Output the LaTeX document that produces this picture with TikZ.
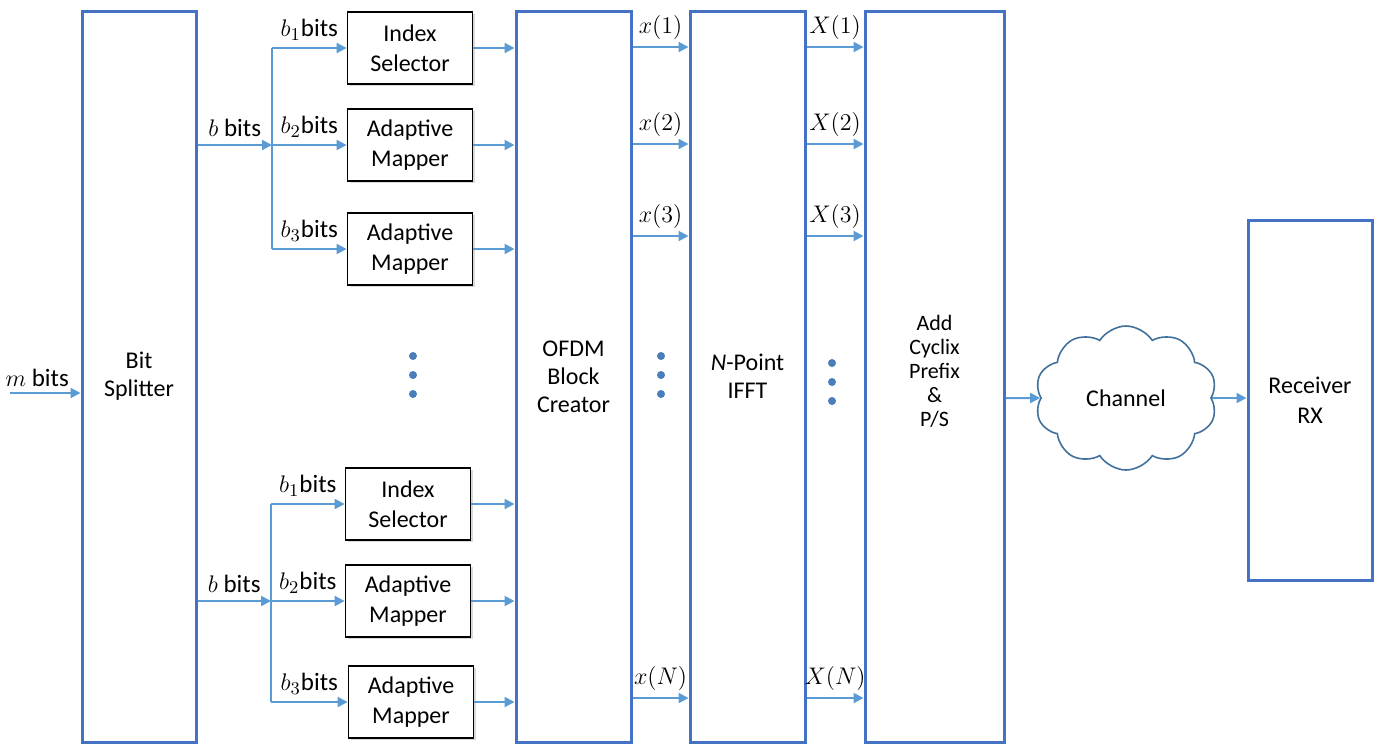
\documentclass[tikz,border=0pt]{standalone}
\usepackage{fontspec}
\setmainfont{Carlito}
\usetikzlibrary{arrows.meta,shadows,shapes.symbols}
\definecolor{boxblue}{HTML}{4472C4}
\definecolor{arrblue}{HTML}{5B9BD5}
\definecolor{cloudblue}{HTML}{41719C}
\definecolor{dotblue}{HTML}{4A7EBB}
\tikzset{
  bigbox/.style={draw=boxblue, line width=1.5pt, fill=white, align=center, font=\fontsize{12}{14}\selectfont,
    drop shadow={shadow xshift=1.2pt, shadow yshift=-1.2pt, opacity=0.3, fill=gray}},
  smallbox/.style={draw=black, line width=0.9pt, fill=white, align=center, minimum width=62.5pt, minimum height=36pt,
    inner sep=0pt, font=\fontsize{12}{15}\selectfont,
    drop shadow={shadow xshift=1.2pt, shadow yshift=-1.2pt, opacity=0.3, fill=gray}},
  arr/.style={draw=arrblue, line width=1pt, -{Triangle[length=5pt, width=5pt]}},
  ln/.style={draw=arrblue, line width=1pt},
  lab/.style={font=\fontsize{12.5}{14}\selectfont, inner sep=1.5pt},
  vdot/.style={circle, fill=dotblue, inner sep=0pt, minimum size=4pt}
}
\begin{document}
\begin{tikzpicture}[x=0.5pt, y=-0.5pt]
\useasboundingbox (0,0) rectangle (1379,746);
% big boxes
\node[bigbox, minimum width=57pt, minimum height=365.5pt] (split) at (139,376.5) {Bit\\Splitter};
\node[bigbox, minimum width=57.5pt, minimum height=365.5pt] (ofdm) at (573.5,376.5) {OFDM\\Block\\Creator};
\node[bigbox, minimum width=57.5pt, minimum height=365.5pt] (ifft) at (747.5,376.5) {\textit{N}-Point\\IFFT};
\node[bigbox, minimum width=69.5pt, minimum height=365.5pt] (acp) at (934.5,376.5) {};
\node[align=center, font=\fontsize{11}{12}\selectfont] (acpt) at (934.5,371) {Add\\Cyclix\\Prefix\\\&\\P/S};
\node[bigbox, minimum width=62pt, minimum height=180pt, font=\fontsize{12}{15}\selectfont] (rx) at (1310,400) {Receiver\\RX};
% small boxes
\node[smallbox] (is1) at (410,48) {Index\\Selector};
\node[smallbox] (am1) at (410,145) {Adaptive\\Mapper};
\node[smallbox] (am2) at (410,249) {Adaptive\\Mapper};
\node[smallbox] (is2) at (408,504) {Index\\Selector};
\node[smallbox] (am3) at (408,601) {Adaptive\\Mapper};
\node[smallbox] (am4) at (411,702) {Adaptive\\Mapper};
% cloud
\node[cloud, cloud puffs=10, cloud puff arc=115, draw=cloudblue, line width=0.8pt, fill=white,
  minimum width=91pt, minimum height=72pt, aspect=1.3, inner sep=0pt, font=\fontsize{12}{14}\selectfont] (cl) at (1126,398) {Channel};
% input
\coordinate (min) at (10,393);
\draw[arr] (min) -- node[above, lab, xshift=-4pt, yshift=1pt]{$m$ bits} (min -| split.west);
% top group
\coordinate (j1) at (272,145);
\draw[arr] (split.east |- j1) -- node[above, lab, yshift=2pt]{$b$ bits} (j1);
\draw[ln] (j1 |- is1) -- (j1 |- am2);
\draw[arr] (j1 |- is1) -- node[above, lab, yshift=2pt]{$b_1$bits} (is1.west);
\draw[arr] (j1 |- am1) -- node[above, lab, yshift=2pt]{$b_2$bits} (am1.west);
\draw[arr] (j1 |- am2) -- node[above, lab, yshift=2pt]{$b_3$bits} (am2.west);
% bottom group
\coordinate (j2) at (271,601);
\draw[arr] (split.east |- j2) -- node[above, lab, yshift=2pt]{$b$ bits} (j2);
\draw[ln] (j2 |- is2) -- (j2 |- am4);
\draw[arr] (j2 |- is2) -- node[above, lab, yshift=2pt]{$b_1$bits} (is2.west);
\draw[arr] (j2 |- am3) -- node[above, lab, yshift=2pt]{$b_2$bits} (am3.west);
\draw[arr] (j2 |- am4) -- node[above, lab, yshift=2pt]{$b_3$bits} (am4.west);
% to OFDM
\draw[arr] (is1.east) -- (is1.east -| ofdm.west);
\draw[arr] (am1.east) -- (am1.east -| ofdm.west);
\draw[arr] (am2.east) -- (am2.east -| ofdm.west);
\draw[arr] (is2.east) -- (is2.east -| ofdm.west);
\draw[arr] (am3.east) -- (am3.east -| ofdm.west);
\draw[arr] (am4.east) -- (am4.east -| ofdm.west);
% x and X arrows
\coordinate (r1) at (0,47);
\coordinate (r2) at (0,144);
\coordinate (r3) at (0,236);
\coordinate (rN) at (0,698);
\draw[arr] (ofdm.east |- r1) -- node[above, lab, yshift=2pt]{$x(1)$} (ifft.west |- r1);
\draw[arr] (ofdm.east |- r2) -- node[above, lab, yshift=2pt]{$x(2)$} (ifft.west |- r2);
\draw[arr] (ofdm.east |- r3) -- node[above, lab, yshift=2pt]{$x(3)$} (ifft.west |- r3);
\draw[arr] (ofdm.east |- rN) -- node[above, lab, yshift=2pt]{$x(N)$} (ifft.west |- rN);
\draw[arr] (ifft.east |- r1) -- node[above, lab, yshift=2pt]{$X(1)$} (acp.west |- r1);
\draw[arr] (ifft.east |- r2) -- node[above, lab, yshift=2pt]{$X(2)$} (acp.west |- r2);
\draw[arr] (ifft.east |- r3) -- node[above, lab, yshift=2pt]{$X(3)$} (acp.west |- r3);
\draw[arr] (ifft.east |- rN) -- node[above, lab, yshift=2pt]{$X(N)$} (acp.west |- rN);
% channel
\draw[arr] (acp.east |- cl) -- (cl.west);
\draw[arr] (cl.east) -- (cl.east -| rx.west);
% dots
\node[vdot] (d1) at (413,356) {};
\node[vdot] (d2) at (413,375) {};
\node[vdot] (d3) at (413,394) {};
\node[vdot] (e1) at (661,356) {};
\node[vdot] (e2) at (661,375) {};
\node[vdot] (e3) at (661,394) {};
\node[vdot] (f1) at (832,363) {};
\node[vdot] (f2) at (832,382) {};
\node[vdot] (f3) at (832,401) {};
\end{tikzpicture}
\end{document}
